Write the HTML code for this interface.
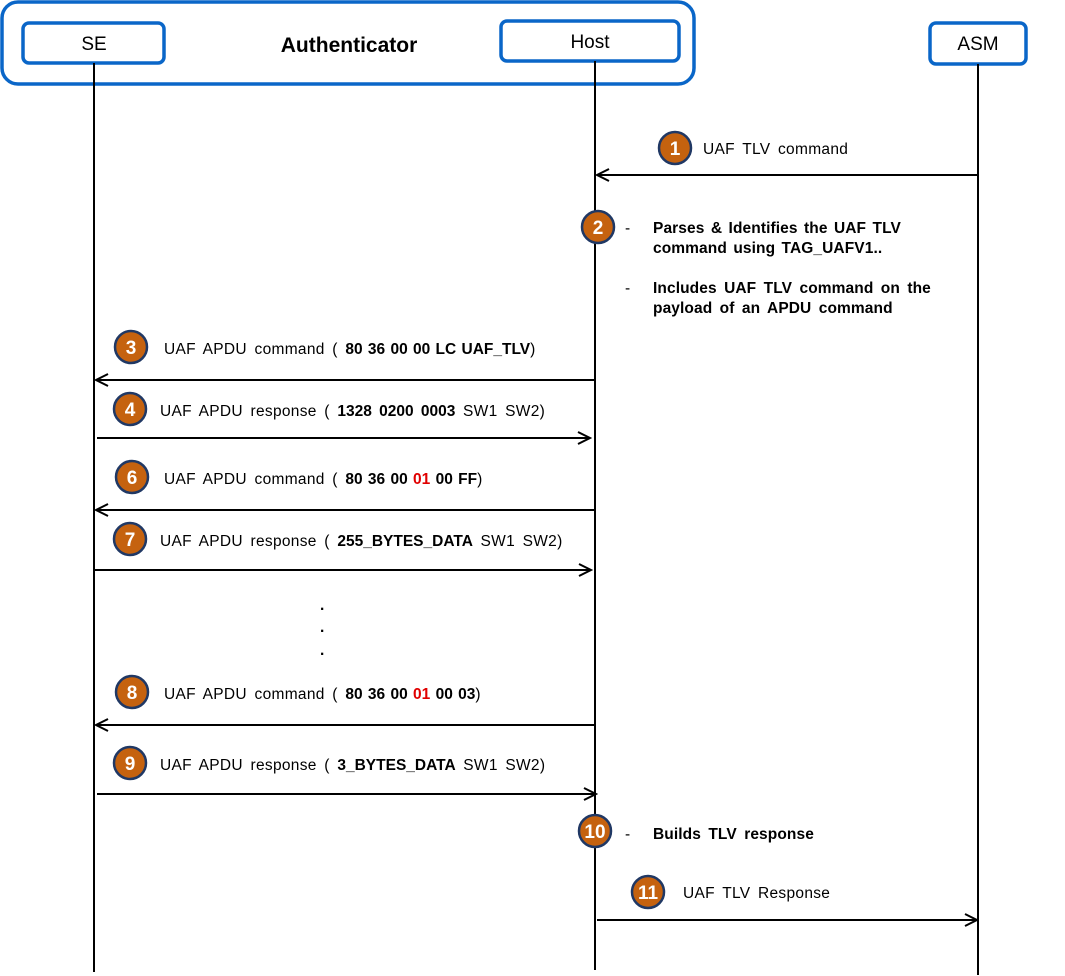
<!DOCTYPE html>
<html><head><meta charset="utf-8"><style>
html,body{margin:0;padding:0;background:#fff}
svg{display:block}
text{font-family:"Liberation Sans",Arial,sans-serif;font-size:15.5px;fill:#000;letter-spacing:0.3px;word-spacing:3px}
.b{font-weight:bold}
.r{fill:#e00000}
.n{fill:#fff;font-weight:bold;font-size:19px;text-anchor:middle;letter-spacing:0;word-spacing:0}
.c{fill:#c5620f;stroke:#203864;stroke-width:2.5}
.l{stroke:#000;stroke-width:2;fill:none}
.box{fill:#fff;stroke:#0a66c8;stroke-width:3.5}
</style></head><body>
<svg width="1065" height="976" viewBox="0 0 1065 976">
<defs>
<marker id="a" markerWidth="16" markerHeight="16" refX="14" refY="8" orient="auto" markerUnits="userSpaceOnUse">
<path d="M2,2 L14,8 L2,14" fill="none" stroke="#000" stroke-width="2"/></marker>
</defs>
<rect x="2" y="2" width="692" height="82" rx="16" class="box" stroke-width="4"/>
<rect x="23" y="23" width="141" height="40" rx="6" class="box"/>
<rect x="501" y="21" width="178" height="40" rx="6" class="box"/>
<rect x="930" y="23" width="96" height="41" rx="6" class="box"/>
<text x="94" y="50" text-anchor="middle" style="font-size:19px;letter-spacing:0">SE</text>
<text x="590" y="48" text-anchor="middle" style="font-size:19px;letter-spacing:0">Host</text>
<text x="978" y="50" text-anchor="middle" style="font-size:19px;letter-spacing:0">ASM</text>
<text x="349" y="52" text-anchor="middle" class="b" style="font-size:21px;letter-spacing:0">Authenticator</text>

<line x1="94" y1="63" x2="94" y2="972" class="l"/>
<line x1="595" y1="61" x2="595" y2="970" class="l"/>
<line x1="978" y1="64" x2="978" y2="975" class="l"/>

<line x1="978" y1="175" x2="597" y2="175" class="l" marker-end="url(#a)"/>
<line x1="595" y1="380" x2="96" y2="380" class="l" marker-end="url(#a)"/>
<line x1="97" y1="438" x2="590" y2="438" class="l" marker-end="url(#a)"/>
<line x1="595" y1="510" x2="96" y2="510" class="l" marker-end="url(#a)"/>
<line x1="94" y1="570" x2="591" y2="570" class="l" marker-end="url(#a)"/>
<line x1="595" y1="725" x2="96" y2="725" class="l" marker-end="url(#a)"/>
<line x1="97" y1="794" x2="596" y2="794" class="l" marker-end="url(#a)"/>
<line x1="597" y1="920" x2="977" y2="920" class="l" marker-end="url(#a)"/>

<circle cx="675" cy="148" r="16" class="c"/><text x="675" y="155" class="n">1</text>
<text x="703" y="154">UAF TLV command</text>

<circle cx="598" cy="227" r="16" class="c"/><text x="598" y="234" class="n">2</text>
<text x="625" y="233">-</text>
<text x="653" y="233" class="b" style="letter-spacing:0.1px;word-spacing:2px">Parses &amp; Identifies the UAF TLV</text>
<text x="653" y="253" class="b" style="letter-spacing:0.1px;word-spacing:2px">command using TAG_UAFV1..</text>
<text x="625" y="293">-</text>
<text x="653" y="293" class="b" style="letter-spacing:0.1px;word-spacing:3px">Includes UAF TLV command on the</text>
<text x="653" y="313" class="b" style="letter-spacing:0.1px;word-spacing:3px">payload of an APDU command</text>

<circle cx="131" cy="347" r="16" class="c"/><text x="131" y="354" class="n">3</text>
<text x="164" y="354">UAF APDU command ( <tspan class="b" style="letter-spacing:0;word-spacing:1px">80 36 00 00 LC UAF_TLV</tspan>)</text>

<circle cx="130" cy="409" r="16" class="c"/><text x="130" y="416" class="n">4</text>
<text x="160" y="416">UAF APDU response ( <tspan class="b" style="letter-spacing:0">1328 0200 0003</tspan>  SW1 SW2)</text>

<circle cx="132" cy="477" r="16" class="c"/><text x="132" y="484" class="n">6</text>
<text x="164" y="484">UAF APDU command ( <tspan class="b" style="letter-spacing:0;word-spacing:1px">80 36 00 <tspan class="r">01</tspan> 00  FF</tspan>)</text>

<circle cx="130" cy="539" r="16" class="c"/><text x="130" y="546" class="n">7</text>
<text x="160" y="546">UAF APDU response ( <tspan class="b" style="letter-spacing:0">255_BYTES_DATA</tspan>  SW1 SW2)</text>

<text x="320" y="610" class="b">.</text>
<text x="320" y="632" class="b">.</text>
<text x="320" y="655" class="b">.</text>

<circle cx="132" cy="692" r="16" class="c"/><text x="132" y="699" class="n">8</text>
<text x="164" y="699">UAF APDU command ( <tspan class="b" style="letter-spacing:0;word-spacing:1px">80 36 00 <tspan class="r">01</tspan> 00  03</tspan>)</text>

<circle cx="130" cy="763" r="16" class="c"/><text x="130" y="770" class="n">9</text>
<text x="160" y="770">UAF APDU response ( <tspan class="b" style="letter-spacing:0">3_BYTES_DATA</tspan>  SW1 SW2)</text>

<circle cx="595" cy="831" r="16" class="c"/><text x="595" y="838" class="n">10</text>
<text x="625" y="839">-</text>
<text x="653" y="839" class="b" style="letter-spacing:0.1px">Builds TLV response</text>

<circle cx="648" cy="892" r="16" class="c"/><text x="648" y="899" class="n">11</text>
<text x="683" y="898">UAF TLV Response</text>
</svg>
</body></html>
